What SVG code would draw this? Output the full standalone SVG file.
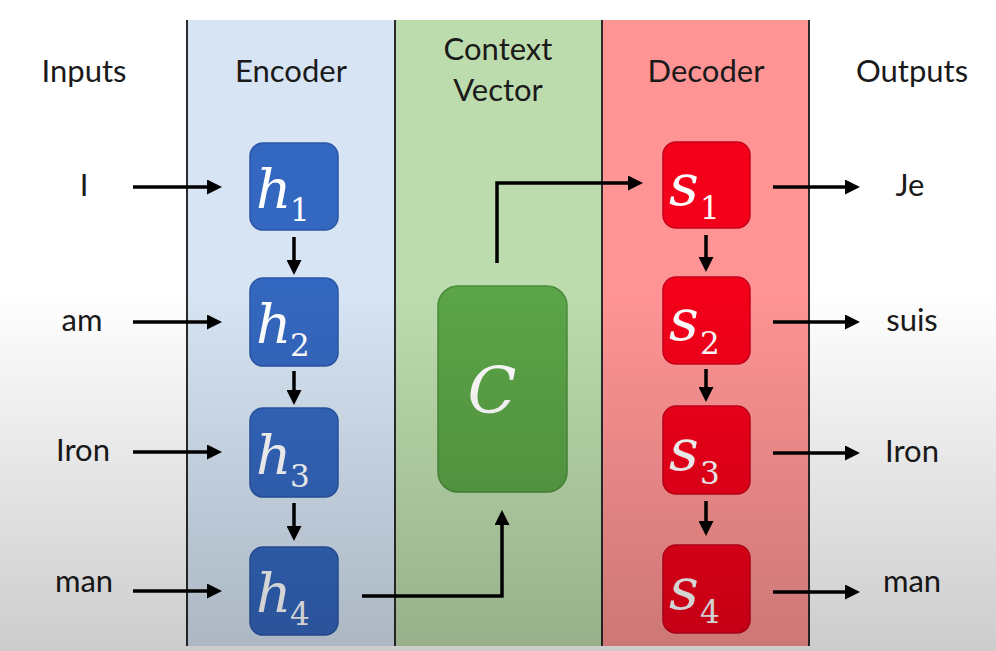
<svg xmlns="http://www.w3.org/2000/svg" width="996" height="651" viewBox="0 0 996 651">
  <defs>
    <style>
      .lbl { font-family: Lato, "Open Sans", "Liberation Sans", sans-serif; font-size: 31px; fill: #1a1a1a; text-anchor: middle; }
      .math { font-family: "DejaVu Serif", "Liberation Serif", serif; font-style: italic; fill: #ffffff; }
      .sub { font-family: "DejaVu Serif", "Liberation Serif", serif; font-style: normal; fill: #ffffff; font-size: 31px; }
      .enc { fill: #3467bf; stroke: #2a56a6; stroke-width: 1.5; }
      .dec { fill: #f4001a; stroke: #c8001a; stroke-width: 1.5; }
      .ctx { fill: #5ba447; stroke: #4a8c3a; stroke-width: 1.5; }
      .conn { fill: none; stroke: #000000; stroke-width: 3.5; }
      .col { stroke: #2b2b2b; stroke-width: 2; }
    </style>
    <marker id="ah" viewBox="0 0 15 15" refX="4" refY="7.5" markerWidth="15" markerHeight="15" markerUnits="userSpaceOnUse" orient="auto">
      <path d="M0,0 L15,7.5 L0,15 z" fill="#000000"/>
    </marker>
    <linearGradient id="shade" x1="0" y1="0" x2="0" y2="1">
      <stop offset="0" stop-color="#000000" stop-opacity="0"/>
      <stop offset="1" stop-color="#000000" stop-opacity="0.2"/>
    </linearGradient>
  </defs>

  <rect x="0" y="0" width="996" height="651" fill="#ffffff"/>

  <g id="columns">
    <rect x="187" y="20" width="208" height="626" fill="#d6e4f3"/>
    <rect x="395" y="20" width="207" height="626" fill="#bddcad"/>
    <rect x="602" y="20" width="207" height="626" fill="#ff9494"/>
    <line class="col" x1="187" y1="20" x2="187" y2="646"/>
    <line class="col" x1="395" y1="20" x2="395" y2="646"/>
    <line class="col" x1="602" y1="20" x2="602" y2="646"/>
    <line class="col" x1="809" y1="20" x2="809" y2="646"/>
  </g>

  <g id="headers">
    <text class="lbl" x="84" y="82">Inputs</text>
    <text class="lbl" x="291" y="82">Encoder</text>
    <text class="lbl" x="498" y="60">Context</text>
    <text class="lbl" x="498" y="101">Vector</text>
    <text class="lbl" x="706" y="82">Decoder</text>
    <text class="lbl" x="912" y="82">Outputs</text>
  </g>

  <g id="inputs">
    <text class="lbl" x="84" y="196">I</text>
    <text class="lbl" x="82" y="331">am</text>
    <text class="lbl" x="83" y="461">Iron</text>
    <text class="lbl" x="84" y="592">man</text>
  </g>

  <g id="outputs">
    <text class="lbl" x="910" y="196">Je</text>
    <text class="lbl" x="912" y="331">suis</text>
    <text class="lbl" x="912" y="462">Iron</text>
    <text class="lbl" x="912" y="592">man</text>
  </g>

  <g id="h1"><rect class="enc" x="250" y="143" width="88" height="87" rx="13"/><text class="math" x="256" y="208" font-size="55">h</text><text class="sub" x="290" y="221">1</text></g>
  <g id="h2"><rect class="enc" x="250" y="278" width="88" height="88" rx="13"/><text class="math" x="256" y="343" font-size="55">h</text><text class="sub" x="290" y="356">2</text></g>
  <g id="h3"><rect class="enc" x="250" y="408" width="88" height="89" rx="13"/><text class="math" x="256" y="474" font-size="55">h</text><text class="sub" x="290" y="487">3</text></g>
  <g id="h4"><rect class="enc" x="250" y="547" width="88" height="88" rx="13"/><text class="math" x="256" y="612" font-size="55">h</text><text class="sub" x="290" y="625">4</text></g>

  <g id="C"><rect class="ctx" x="438" y="286" width="129" height="206" rx="20"/><text class="math" x="492" y="413" font-size="64" text-anchor="middle">C</text></g>

  <g id="s1"><rect class="dec" x="663" y="142" width="87" height="86" rx="13"/><text class="math" x="669" y="205" font-size="58">s</text><text class="sub" x="700" y="219">1</text></g>
  <g id="s2"><rect class="dec" x="663" y="277" width="87" height="87" rx="13"/><text class="math" x="669" y="340" font-size="58">s</text><text class="sub" x="700" y="354">2</text></g>
  <g id="s3"><rect class="dec" x="663" y="406" width="87" height="88" rx="13"/><text class="math" x="669" y="470" font-size="58">s</text><text class="sub" x="700" y="484">3</text></g>
  <g id="s4"><rect class="dec" x="663" y="545" width="87" height="88" rx="13"/><text class="math" x="669" y="609" font-size="58">s</text><text class="sub" x="700" y="623">4</text></g>

  <g id="connectors">
    <path class="conn" marker-end="url(#ah)" d="M133,187 H211"/>
    <path class="conn" marker-end="url(#ah)" d="M133,322 H211"/>
    <path class="conn" marker-end="url(#ah)" d="M133,452 H211"/>
    <path class="conn" marker-end="url(#ah)" d="M133,591 H211"/>
    <path class="conn" marker-end="url(#ah)" d="M294,237 V264"/>
    <path class="conn" marker-end="url(#ah)" d="M294,371 V394"/>
    <path class="conn" marker-end="url(#ah)" d="M294,503 V530"/>
    <path class="conn" marker-end="url(#ah)" d="M362,596 H502 V521"/>
    <path class="conn" marker-end="url(#ah)" d="M497,263 V183 H632"/>
    <path class="conn" marker-end="url(#ah)" d="M706,235 V261"/>
    <path class="conn" marker-end="url(#ah)" d="M706,369 V391"/>
    <path class="conn" marker-end="url(#ah)" d="M706,501 V525"/>
    <path class="conn" marker-end="url(#ah)" d="M773,187 H849"/>
    <path class="conn" marker-end="url(#ah)" d="M773,322 H849"/>
    <path class="conn" marker-end="url(#ah)" d="M773,453 H849"/>
    <path class="conn" marker-end="url(#ah)" d="M773,592 H849"/>
  </g>

  <rect x="0" y="290" width="996" height="361" fill="url(#shade)" pointer-events="none"/>
</svg>
